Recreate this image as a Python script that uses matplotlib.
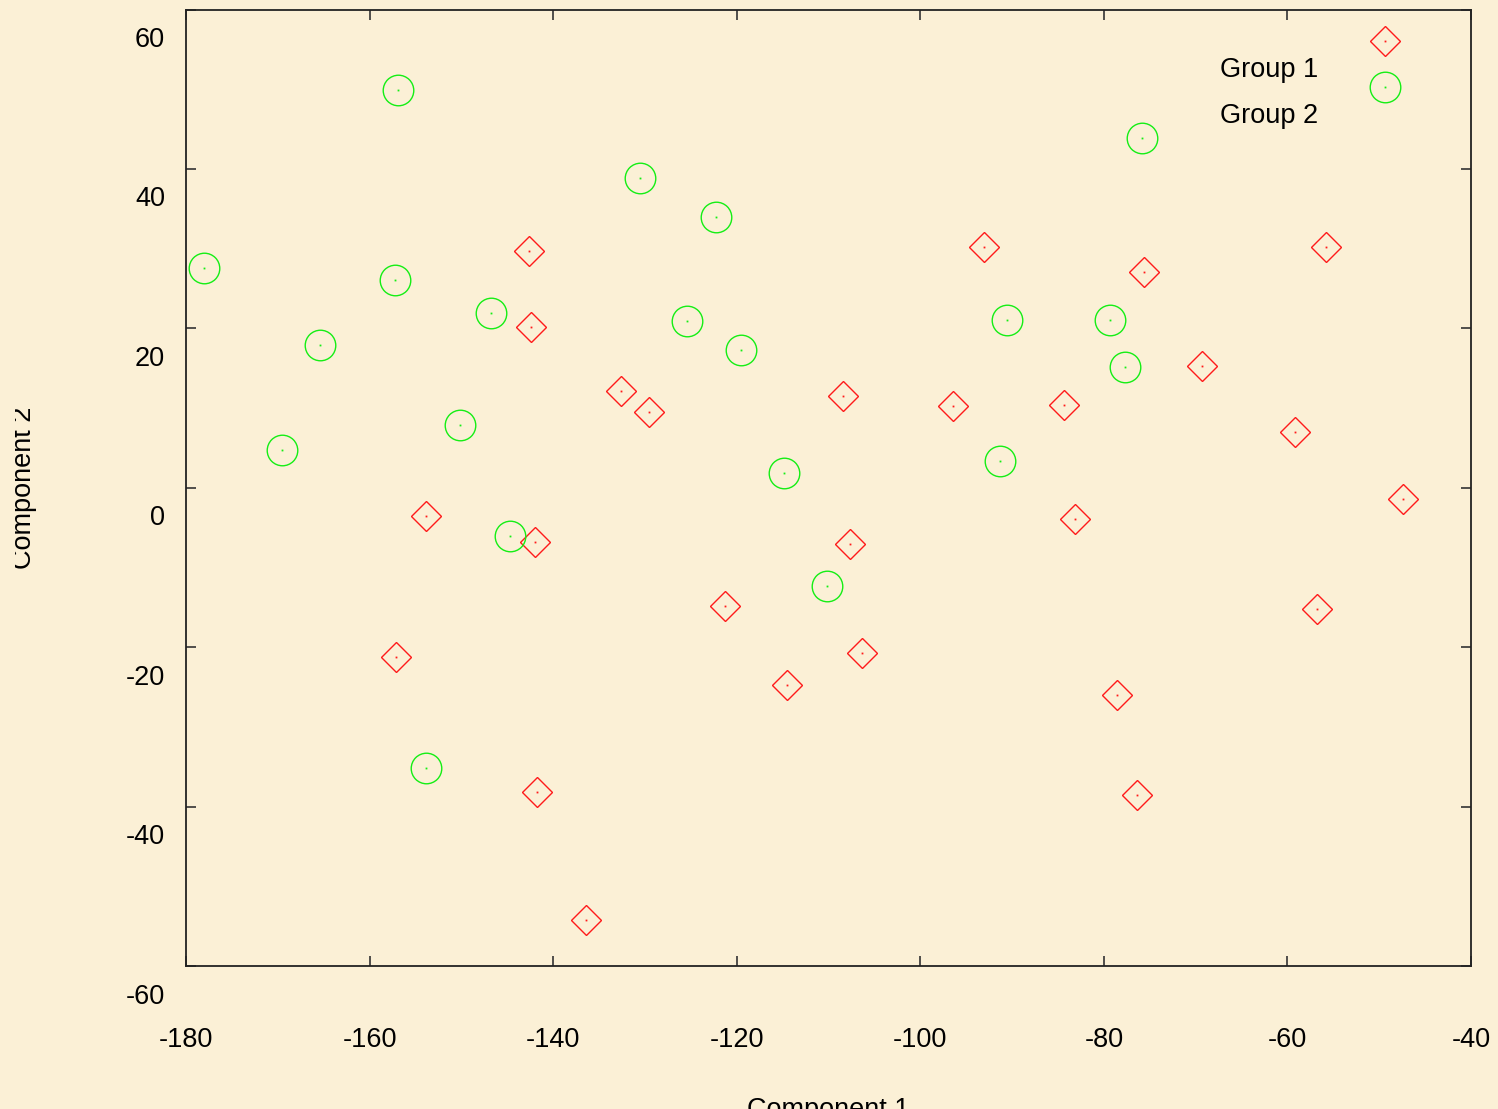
import numpy as np
import matplotlib
matplotlib.use("Agg")
import matplotlib.pyplot as plt
from matplotlib.transforms import ScaledTranslation, Bbox

# Scores on the first two components, by group
group1_x = [-142.6, -142.4, -93.1, -55.8, -75.6, -69.3, -132.6, -129.6, -108.4,
            -96.4, -84.3, -59.2, -47.4, -153.9, -142.0, -107.7, -83.1, -121.3,
            -56.8, -157.1, -106.4, -114.5, -78.6, -141.8, -76.4, -136.4]
group1_y = [29.7, 20.2, 30.2, 30.2, 27.1, 15.3, 12.2, 9.5, 11.5,
            10.3, 10.4, 7.0, -1.4, -3.5, -6.8, -7.1, -3.9, -14.8,
            -15.2, -21.2, -20.7, -24.8, -26.0, -38.2, -38.6, -54.2]

group2_x = [-156.9, -130.5, -122.3, -75.9, -178.0, -157.2, -146.8, -165.4, -125.4,
            -119.5, -90.6, -79.3, -77.7, -169.5, -150.1, -91.3, -114.9, -144.7,
            -110.2, -153.9]
group2_y = [49.9, 38.9, 34.0, 43.9, 27.6, 26.1, 21.9, 17.9, 20.9,
            17.3, 21.1, 21.1, 15.2, 4.8, 7.9, 3.4, 1.9, -6.1,
            -12.3, -35.2]

group_names = ["Group 1", "Group 2"]
x_ticks = [-180, -160, -140, -120, -100, -80, -60, -40]
y_ticks = [-60, -40, -20, 0, 20, 40, 60]

bg = "#fbf0d6"
red = "#ff1a1a"
green = "#14ee14"
font = "Liberation Sans"
fs = 19.5

plt.rcParams["font.family"] = font
plt.rcParams["axes.unicode_minus"] = False

fig = plt.figure(figsize=(14.98, 11.09), dpi=100)
fig.patch.set_facecolor(bg)
ax = fig.add_axes([0.1242, 0.1289, 0.8578, 0.8625])
ax.set_facecolor(bg)

# diamonds and circles, each with a tiny dot at the centre
ax.plot(group1_x, group1_y, linestyle="none", marker="D", ms=15.5,
        mfc="none", mec=red, mew=1.0)
ax.plot(group1_x, group1_y, linestyle="none", marker="s", ms=1.3,
        mfc=red, mec="none")
ax.plot(group2_x, group2_y, linestyle="none", marker="o", ms=22,
        mfc="none", mec=green, mew=1.0)
ax.plot(group2_x, group2_y, linestyle="none", marker="s", ms=1.3,
        mfc=green, mec="none")

ax.set_xlim(-180, -40)
ax.set_ylim(-60, 60)
ax.set_xticks(x_ticks)
ax.set_yticks(y_ticks)
ax.tick_params(direction="in", length=7.2, width=1.2, color="#333333",
               top=True, right=True, labelsize=fs)
ax.tick_params(axis="x", pad=44)
ax.tick_params(axis="y", pad=15)
for s in ax.spines.values():
    s.set_linewidth(1.3)
    s.set_color("#222222")

# y tick labels sit a little below their ticks
shift = ScaledTranslation(0, -0.275, fig.dpi_scale_trans)
for lab in ax.get_yticklabels():
    lab.set_transform(lab.get_transform() + shift)

# hand-made key in the upper right
ax.plot([0.933], [0.967], transform=ax.transAxes, marker="D", ms=15.5,
        mfc="none", mec=red, mew=1.0, clip_on=False)
ax.plot([0.933], [0.967], transform=ax.transAxes, marker="s", ms=1.3,
        mfc=red, mec="none", clip_on=False)
ax.plot([0.933], [0.919], transform=ax.transAxes, marker="o", ms=22,
        mfc="none", mec=green, mew=1.0, clip_on=False)
ax.plot([0.933], [0.919], transform=ax.transAxes, marker="s", ms=1.3,
        mfc=green, mec="none", clip_on=False)
ax.text(0.8047, 0.9365, group_names[0], transform=ax.transAxes, fontsize=fs,
        va="center", ha="left")
ax.text(0.8047, 0.8885, group_names[1], transform=ax.transAxes, fontsize=fs,
        va="center", ha="left")

# axis titles, partly running off the canvas
W, H = 1498, 1109
fig.text(828 / W, (H - 1117) / H, "Component 1", fontsize=fs,
         ha="center", va="baseline")
t = fig.text(31 / W, (H - 488) / H, "Component 2", fontsize=fs,
             ha="center", va="baseline", rotation=90, rotation_mode="anchor")
t.set_clip_box(Bbox.from_extents(15, 0, W, H))
t.set_clip_on(True)

fig.savefig("out.png", dpi=100, facecolor=bg)
